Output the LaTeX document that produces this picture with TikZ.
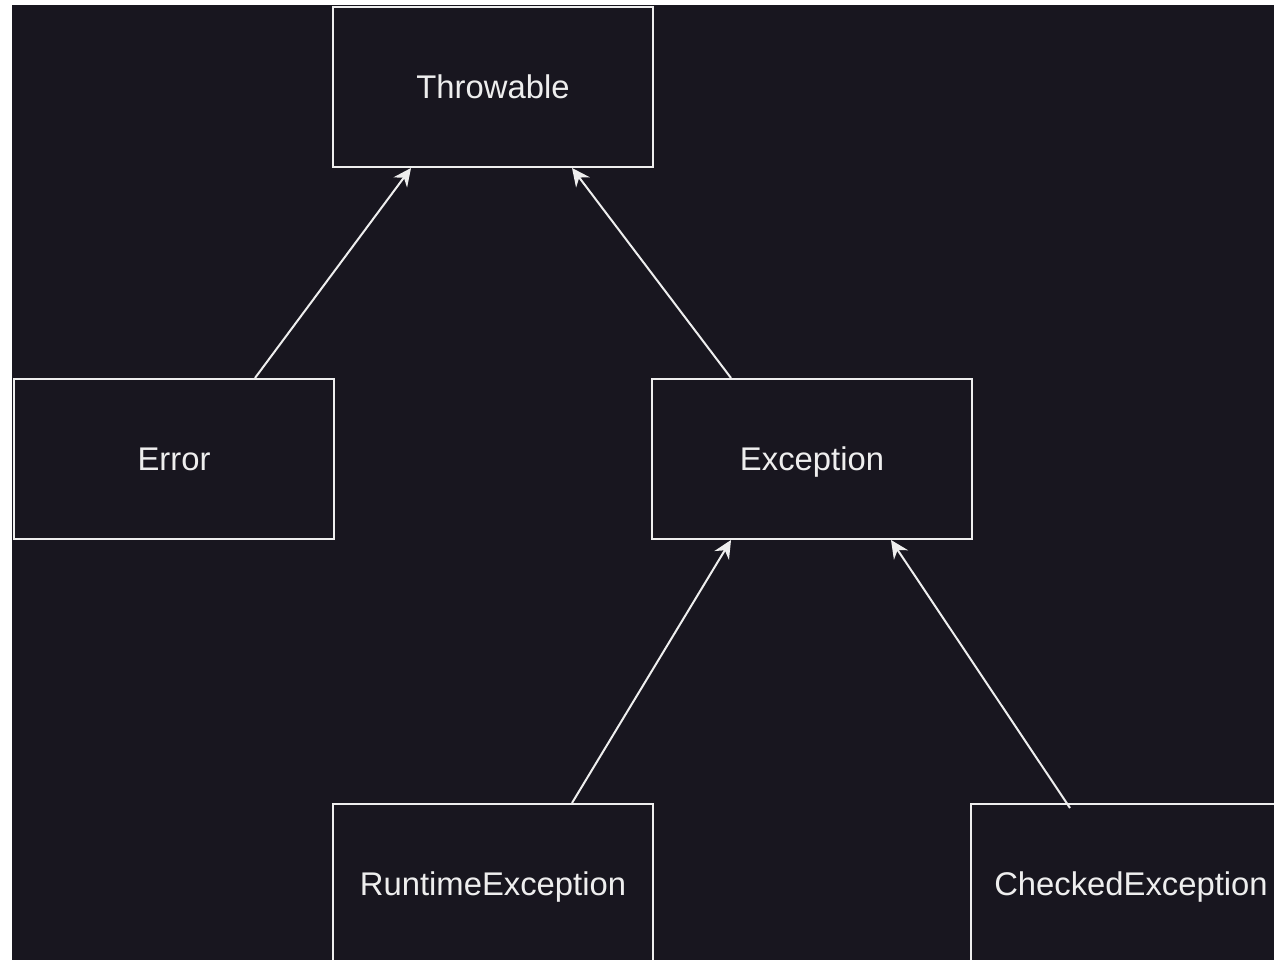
\documentclass[tikz,border=0pt]{standalone}
\usepackage{fontspec}
\setmainfont{Liberation Sans}
\usetikzlibrary{arrows.meta}
\definecolor{bg}{RGB}{24,22,31}
\definecolor{fg}{RGB}{238,238,238}
\begin{document}
\begin{tikzpicture}[x=1pt,y=-1pt,
  cls/.style={draw=fg, line width=2pt, fill=bg, text=fg, minimum width=320pt,
    minimum height=160pt, inner sep=0pt, text height=23.5pt, text depth=0pt,
    font=\fontsize{32.8}{40}\selectfont, anchor=north west},
  inh/.style={draw=fg, line width=2pt, -{Stealth[length=18pt,width=17pt,inset=6pt]}}]
\useasboundingbox (0,0) rectangle (1274,960);
\fill[white] (0,0) rectangle (1274,960);
\fill[bg] (12,5) rectangle (1274,960);
\begin{scope}
\clip (12,5) rectangle (1274,960);
\node[cls] (thr) at (332,6) {Throwable};
\node[cls] (err) at (13,378) {Error};
\node[cls] (exc) at (651,378) {Exception};
\node[cls] (rte) at (332,803) {RuntimeException};
\node[cls] (chk) at (970,803) {CheckedException};
\draw[inh] ([xshift=242pt]err.north west) -- ([xshift=79pt]thr.south west);
\draw[inh] ([xshift=80pt]exc.north west) -- ([xshift=240pt]thr.south west);
\draw[inh] ([xshift=240pt]rte.north west) -- ([xshift=80pt]exc.south west);
\draw[inh] ([xshift=100pt,yshift=-5pt]chk.north west) -- ([xshift=240pt]exc.south west);
\end{scope}
\end{tikzpicture}
\end{document}
